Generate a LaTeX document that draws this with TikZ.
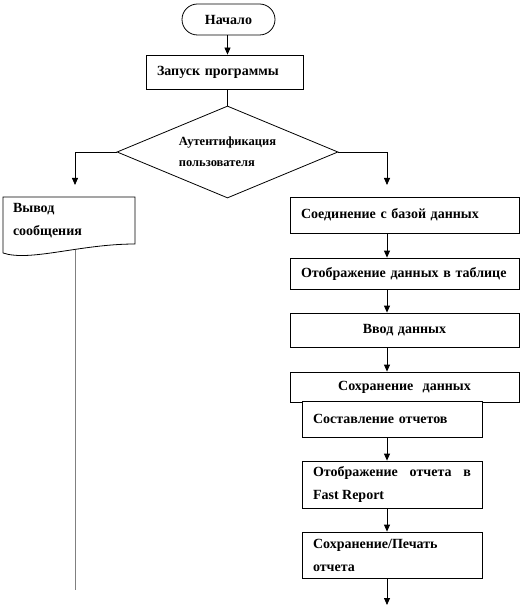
\documentclass[tikz,border=0pt]{standalone}
\usepackage{fontspec}
\setmainfont{Liberation Serif}
\usetikzlibrary{arrows.meta,shapes.geometric,calc}
\begin{document}
\begin{tikzpicture}[x=1pt,y=-1pt,
  every node/.style={font=\bfseries\fontsize{14}{23}\selectfont},
  ln/.style={line width=0.8pt},
  arr/.style={ln,-{Triangle[length=7pt,width=6pt]}},
  box/.style={draw,ln,inner xsep=11pt,inner ysep=0pt,align=left},
]
\useasboundingbox (0,0) rectangle (522,612);
% nodes
\node[draw,ln,rounded corners=15.5pt,minimum width=93pt,minimum height=31pt] (start) at (228.5,19.5) {Начало};
\node[box,text width=135pt,minimum height=34pt] (run) at (224.5,72) {Запуск программы};
\node[draw,ln,diamond,shape aspect=2.4,minimum width=221pt,minimum height=92pt,inner sep=0pt,align=left,font=\bfseries\fontsize{12.5}{21}\selectfont] (auth) at (227.5,152) {Аутентификация\\пользователя};
\node[text width=112pt,inner xsep=10pt,align=left] (msg) at (69,221) {Вывод\\сообщения};
\node[box,text width=207pt,minimum height=36pt] (conn) at (404.5,215) {Соединение с базой данных};
\node[box,text width=207pt,minimum height=31pt] (tab) at (404.5,273.5) {Отображение данных в таблице};
\node[box,text width=207pt,minimum height=34pt,align=center] (inp) at (404.5,330) {Ввод данных};
\node[box,text width=207pt,minimum height=30pt,align=center] (save) at (404.5,387) {Сохранение\ \ данных};
\node[box,text width=158pt,minimum height=36pt,fill=white] (rep) at (392,419) {Составление отчетов};
\node[box,text width=158pt,minimum height=47pt,align=justify] (fr) at (392,484.5) {Отображение отчета в Fast Report};
\node[box,text width=158pt,minimum height=46pt] (prt) at (392,555) {Сохранение/Печать отчета};
% document shape outline
\draw[ln] (3,253) -- (3,197) -- (135,197) -- (135,244) .. controls (80,244) and (30,262) .. (3,253);
% coordinates
\coordinate (ax) at (387,0);
\coordinate (lx) at (75,197);
\coordinate (rx) at (387,197);
\coordinate (mb) at (75,250);
\coordinate (gend) at (75,590);
\coordinate (fin) at (387,605);
% connectors
\draw[arr] (start.south -| auth.north) -- (run.north -| auth.north);
\draw[ln] (run.south -| auth.north) -- (auth.north);
\draw[arr,shorten >=12pt] (auth.west) -| (lx);
\draw[arr,shorten >=12pt] (auth.east) -| (rx);
\draw[arr] (conn.south -| ax) -- (tab.north -| ax);
\draw[arr] (tab.south -| ax) -- (inp.north -| ax);
\draw[arr] (inp.south -| ax) -- (save.north -| ax);
\draw[arr] (rep.south -| ax) -- (fr.north -| ax);
\draw[arr] (fr.south -| ax) -- (prt.north -| ax);
\draw[arr] (prt.south -| ax) -- (fin);
\draw[gray,line width=1pt] (mb) -- (gend);
\end{tikzpicture}
\end{document}
